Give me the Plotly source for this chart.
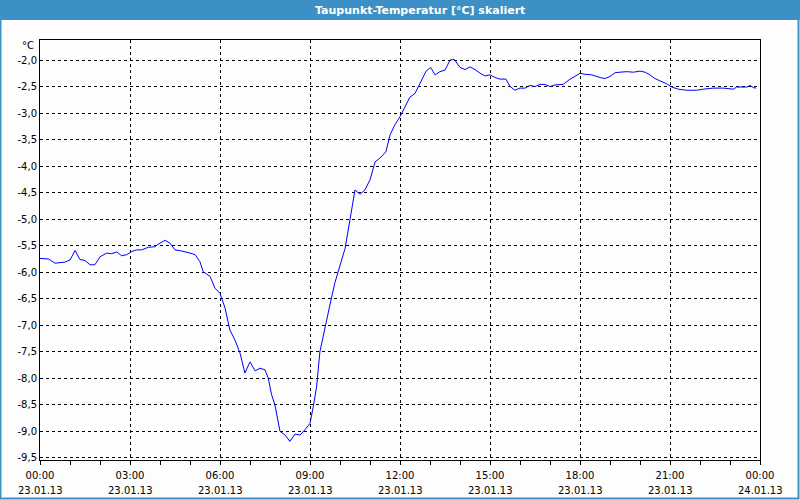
import plotly.graph_objects as go

# ---- data (hours since 23.01.13 00:00, dew point in °C) ----
hours = [
    0.0, 0.28, 0.5, 0.83, 1.0, 1.17, 1.33, 1.5, 1.67, 1.83, 2.0, 2.22, 2.39, 2.56, 2.72, 2.89,
    3.06, 3.22, 3.39, 3.61, 3.83, 4.0, 4.17, 4.33, 4.5, 4.72, 5.0, 5.17, 5.33, 5.44, 5.67, 5.83,
    6.0, 6.17, 6.33, 6.5, 6.67, 6.83, 7.0, 7.17, 7.33, 7.5, 7.61, 7.72, 7.83, 8.0, 8.17, 8.33,
    8.5, 8.67, 8.83, 9.0, 9.11, 9.22, 9.33, 9.5, 9.67, 9.83, 10.0, 10.17, 10.33, 10.5, 10.67,
    10.83, 11.0, 11.17, 11.33, 11.53, 11.67, 11.83, 12.0, 12.17, 12.33, 12.5, 12.67, 12.87,
    13.02, 13.17, 13.33, 13.5, 13.67, 13.81, 14.0, 14.17, 14.33, 14.5, 14.67, 14.83, 15.0,
    15.17, 15.33, 15.53, 15.67, 15.83, 16.0, 16.17, 16.33, 16.5, 16.67, 16.83, 17.0, 17.17,
    17.44, 17.67, 17.83, 18.0, 18.17, 18.39, 18.67, 18.83, 19.0, 19.17, 19.33, 19.56, 19.78,
    20.0, 20.17, 20.33, 20.5, 20.67, 20.89, 21.06, 21.28, 21.56, 21.89, 22.11, 22.44, 22.78,
    23.11, 23.22, 23.56, 23.67, 23.78, 23.87,
]
dewpoint = [
    -5.74, -5.75, -5.83, -5.81, -5.77, -5.59, -5.76, -5.78, -5.86, -5.86, -5.71, -5.64, -5.65,
    -5.62, -5.69, -5.67, -5.61, -5.58, -5.58, -5.53, -5.52, -5.45, -5.40, -5.45, -5.58, -5.60,
    -5.64, -5.67, -5.80, -5.99, -6.08, -6.30, -6.40, -6.68, -7.09, -7.28, -7.53, -7.90, -7.69,
    -7.86, -7.81, -7.84, -8.00, -8.31, -8.50, -9.00, -9.07, -9.19, -9.05, -9.07, -8.97, -8.85,
    -8.53, -8.16, -7.50, -7.03, -6.60, -6.20, -5.85, -5.55, -5.02, -4.45, -4.53, -4.45, -4.26,
    -3.92, -3.85, -3.73, -3.41, -3.22, -3.07, -2.87, -2.70, -2.63, -2.45, -2.21, -2.14, -2.28,
    -2.22, -2.19, -2.00, -1.99, -2.14, -2.18, -2.13, -2.18, -2.25, -2.30, -2.28, -2.33, -2.36,
    -2.36, -2.50, -2.57, -2.53, -2.53, -2.48, -2.50, -2.46, -2.46, -2.50, -2.47, -2.46, -2.36,
    -2.31, -2.25, -2.27, -2.28, -2.33, -2.35, -2.31, -2.24, -2.23, -2.22, -2.23, -2.21, -2.23,
    -2.28, -2.35, -2.39, -2.45, -2.51, -2.55, -2.57, -2.57, -2.55, -2.53, -2.53, -2.55, -2.51,
    -2.51, -2.48, -2.52, -2.53,
]

x_tickvals = [0, 3, 6, 9, 12, 15, 18, 21, 24]
x_tick_times = ["00:00", "03:00", "06:00", "09:00", "12:00", "15:00", "18:00", "21:00", "00:00"]
x_tick_dates = ["23.01.13", "23.01.13", "23.01.13", "23.01.13", "23.01.13", "23.01.13",
                "23.01.13", "23.01.13", "24.01.13"]
y_tickvals = [-2.0, -2.5, -3.0, -3.5, -4.0, -4.5, -5.0, -5.5, -6.0, -6.5, -7.0, -7.5, -8.0,
              -8.5, -9.0, -9.5]
y_ticktext = ["-2,0", "-2,5", "-3,0", "-3,5", "-4,0", "-4,5", "-5,0", "-5,5", "-6,0", "-6,5",
              "-7,0", "-7,5", "-8,0", "-8,5", "-9,0", "-9,5"]

title_text = "Taupunkt-Temperatur [°C] skaliert"
unit_text = "°C"

# ---- layout geometry (pixels) ----
W, H = 800, 500
L, R, T, B = 40, 40, 40, 40
PW, PH = W - L - R, H - T - B


def px_x(px):
    return (px - L) / PW


def px_y(py):
    return (H - B - py) / PH


FONT = "DejaVu Sans"
BAR = "#3c90c5"

fig = go.Figure()
fig.add_trace(go.Scatter(
    x=hours, y=dewpoint, mode="lines",
    line=dict(color="#0000ff", width=1),
    hoverinfo="skip", showlegend=False,
))

annotations = [
    dict(text="<b>%s</b>" % title_text, xref="paper", yref="paper", x=px_x(420), y=px_y(10),
         xanchor="center", yanchor="middle", showarrow=False,
         font=dict(family=FONT, size=11, color="#ffffff")),
    dict(text=unit_text, xref="paper", yref="paper", x=px_x(36), y=px_y(46),
         xanchor="right", yanchor="middle", showarrow=False,
         font=dict(family=FONT, size=10, color="#000000")),
]
# second line of the x tick labels (date), placed on the x axis scale
for xv, d in zip(x_tickvals, x_tick_dates):
    annotations.append(dict(
        text=d, xref="x", yref="paper", x=xv, y=px_y(490),
        xanchor="center", yanchor="middle", showarrow=False,
        font=dict(family=FONT, size=10, color="#000000"),
    ))

fig.update_layout(
    width=W, height=H,
    margin=dict(l=L, r=R, t=T, b=B),
    paper_bgcolor="#fcfdfc",
    plot_bgcolor="#fcfdfc",
    showlegend=False,
    font=dict(family=FONT, size=10, color="#000000"),
    xaxis=dict(
        range=[0, 24],
        tickmode="array", tickvals=x_tickvals, ticktext=x_tick_times,
        ticks="outside", ticklen=4, tickcolor="#000000", tickwidth=1,
        minor=dict(dtick=1, ticks="outside", ticklen=4, tickcolor="#000000",
                   showgrid=False, tick0=0),
        showgrid=True, gridcolor="#000000", gridwidth=1, griddash="3px,3px",
        showline=True, linecolor="#000000", linewidth=1, mirror=True,
        zeroline=False, tickfont=dict(family=FONT, size=10, color="#000000"),
        ticklabelstandoff=2, automargin=False,
        fixedrange=True,
    ),
    yaxis=dict(
        range=[-9.54, -1.623],
        tickmode="array", tickvals=y_tickvals, ticktext=y_ticktext,
        ticks="", showgrid=True, gridcolor="#000000", gridwidth=1, griddash="3px,3px",
        showline=True, linecolor="#000000", linewidth=1, mirror=True,
        zeroline=False, tickfont=dict(family=FONT, size=10, color="#000000"),
        automargin=False, fixedrange=True,
    ),
    shapes=[
        dict(type="rect", xref="paper", yref="paper",
             x0=px_x(0), x1=px_x(W), y0=px_y(20), y1=px_y(0),
             fillcolor=BAR, line=dict(width=0), layer="above"),
        dict(type="rect", xref="paper", yref="paper",
             x0=px_x(0.5), x1=px_x(W - 1.5), y0=px_y(H - 1.5), y1=px_y(0),
             fillcolor="rgba(0,0,0,0)", line=dict(color=BAR, width=2), layer="above"),
    ],
    annotations=annotations,
)

fig.write_html("out.html")
